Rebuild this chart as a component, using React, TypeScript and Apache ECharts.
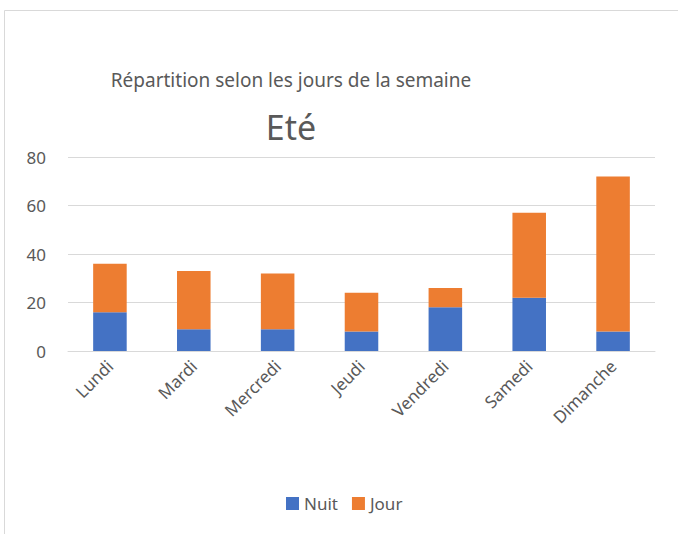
import React, { useEffect, useRef } from "react";
import * as echarts from "echarts";

const categories = ["Lundi", "Mardi", "Mercredi", "Jeudi", "Vendredi", "Samedi", "Dimanche"];
const nuitValues = [16, 9, 9, 8, 18, 22, 8];
const jourValues = [20, 24, 23, 16, 8, 35, 64];
const yTicks = { min: 0, max: 80, interval: 20 };
const titleText = "Répartition selon les jours de la semaine";
const subtitleText = "Eté";

const FONT = "'Noto Sans', sans-serif";
const GREY = "#595959";

export default function App() {
  const ref = useRef<HTMLDivElement>(null);
  useEffect(() => {
    document.body.style.margin = "0";
    const chart = echarts.init(ref.current!, null, { renderer: "svg" });
    chart.setOption({
      animation: false,
      backgroundColor: "#ffffff",
      textStyle: { fontFamily: FONT },
      graphic: [
        {
          type: "rect",
          shape: { x: 4.5, y: 10.5, width: 720, height: 600 },
          style: { fill: "none", stroke: "#d9d9d9", lineWidth: 1 },
          silent: true,
        },
        {
          type: "text",
          x: 291,
          y: 80,
          style: { text: titleText, font: `19px ${FONT}`, fill: GREY, align: "center", verticalAlign: "middle" },
        },
        {
          type: "text",
          x: 291,
          y: 127,
          style: { text: subtitleText, font: `34px ${FONT}`, fill: GREY, align: "center", verticalAlign: "middle" },
        },
      ],
      legend: {
        data: ["Nuit", "Jour"],
        top: 490,
        left: 281,
        itemWidth: 13,
        itemHeight: 13,
        itemGap: 14,
        icon: "rect",
        textStyle: { color: GREY, fontSize: 17, fontFamily: FONT },
      },
      grid: { left: 68, right: 23, top: 157, bottom: 183, containLabel: false },
      xAxis: {
        type: "category",
        data: categories,
        axisLine: { show: true, lineStyle: { color: "#d9d9d9", width: 1 } },
        axisTick: { show: false },
        axisLabel: { rotate: 45, color: GREY, fontSize: 17, fontFamily: FONT, margin: 12, interval: 0 },
      },
      yAxis: {
        type: "value",
        min: yTicks.min,
        max: yTicks.max,
        interval: yTicks.interval,
        axisLine: { show: false },
        axisTick: { show: false },
        splitLine: { lineStyle: { color: "#d9d9d9", width: 1 } },
        axisLabel: { color: GREY, fontSize: 17, fontFamily: FONT, margin: 22 },
      },
      series: [
        {
          name: "Nuit",
          type: "bar",
          stack: "total",
          data: nuitValues,
          barWidth: "40%",
          itemStyle: { color: "#4472c4" },
        },
        {
          name: "Jour",
          type: "bar",
          stack: "total",
          data: jourValues,
          barWidth: "40%",
          itemStyle: { color: "#ed7d31" },
        },
      ],
    });
    return () => chart.dispose();
  }, []);
  return <div ref={ref} style={{ width: 678, height: 534 }} />;
}
